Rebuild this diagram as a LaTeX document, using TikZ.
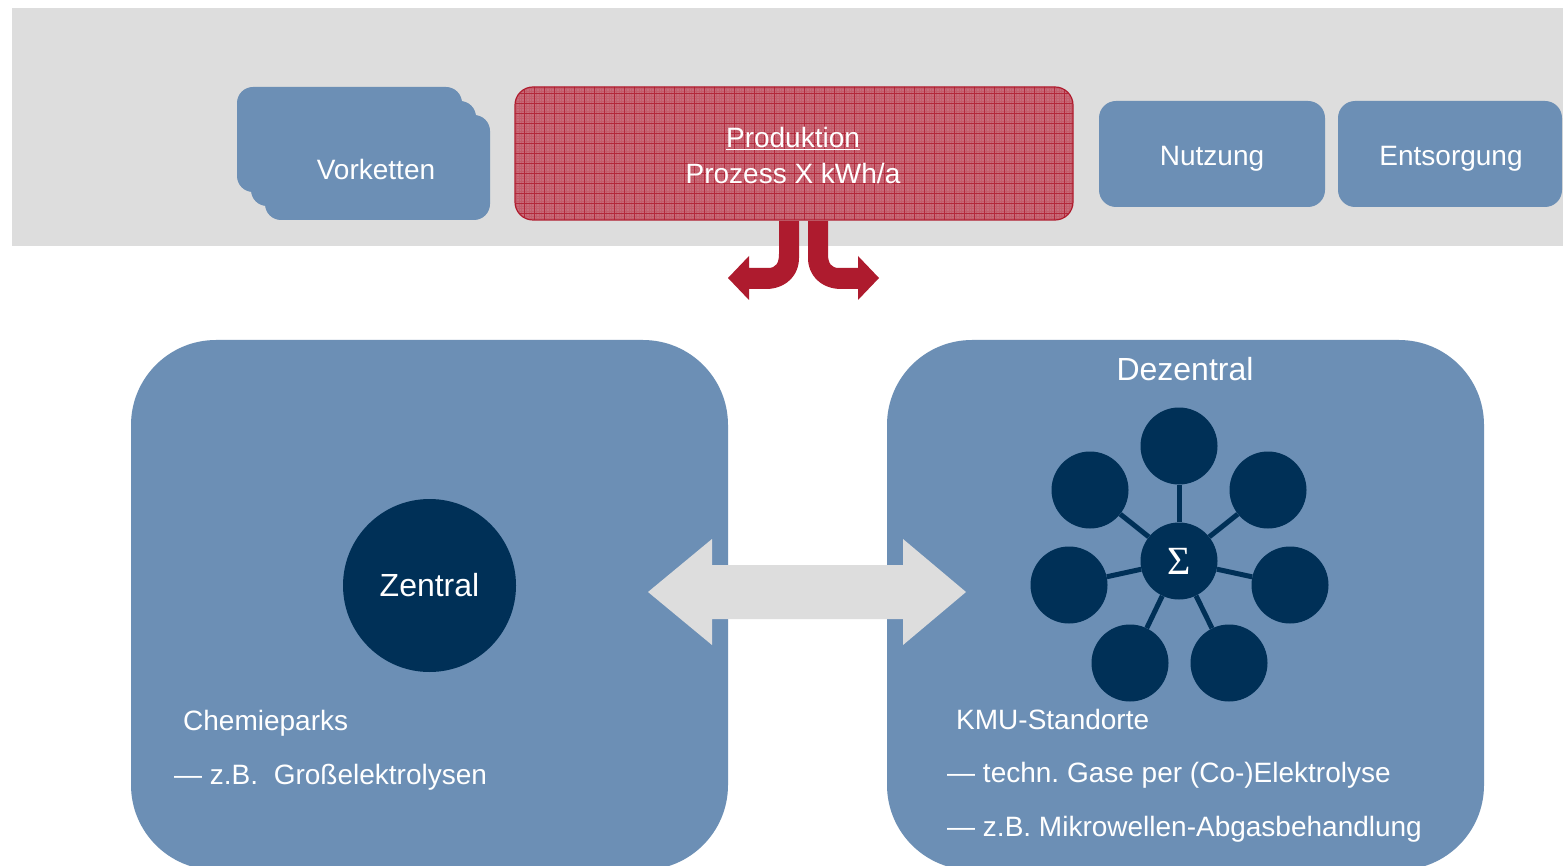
\documentclass[tikz,border=0pt]{standalone}
\usepackage{fontspec}
\setmainfont{Liberation Sans}
\newfontfamily\greekserif{Liberation Serif}
\definecolor{band}{RGB}{221,221,221}
\definecolor{panelblue}{RGB}{108,143,181}
\definecolor{navy}{RGB}{0,48,87}
\definecolor{prodfill}{RGB}{200,108,122}
\definecolor{prodline}{RGB}{176,28,46}
\definecolor{arrowred}{RGB}{174,27,46}
\frenchspacing
\begin{document}
\begin{tikzpicture}[x=1pt,y=-1pt,
  stagebox/.style={fill=panelblue, draw=none, rounded corners=16pt, inner sep=0pt},
  txt/.style={text=white, inner sep=0pt, font=\fontsize{28}{33}\selectfont},
  bigtxt/.style={text=white, inner sep=0pt, font=\fontsize{32}{38}\selectfont},
  panel/.style={fill=panelblue, draw=none, rounded corners=85pt, minimum width=597pt, minimum height=530pt, inner sep=0pt},
  satdot/.style={circle, fill=navy, draw=none, minimum size=77pt, inner sep=0pt},
  link/.style={draw=navy, line width=5pt},
]
\clip (0,0) rectangle (1563,866);
\fill[white] (0,0) rectangle (1563,866);
% top band
\fill[band] (12,8) rectangle (1563,246);
% Vorketten (stacked)
\node[stagebox, minimum width=225pt, minimum height=105pt] (v1) at (349.5,139.5) {};
\node[stagebox, minimum width=225pt, minimum height=105pt] (v2) at (363.5,153.5) {};
\node[stagebox, minimum width=225pt, minimum height=105pt] (v3) at (377.5,167.5) {};
\node[txt, anchor=base] (vtxt) at (376,180) {Vorketten};
% Produktion
\node[rounded corners=18pt, fill=prodfill, draw=prodline, line width=1.2pt,
      minimum width=558pt, minimum height=133pt, inner sep=0pt,
      path picture={
        \draw[prodline, line width=0.3pt, opacity=0.2] ([shift={(-2pt,-2pt)}]path picture bounding box.south west) grid[step=2.5pt] ([shift={(2pt,2pt)}]path picture bounding box.north east);
        \draw[prodline, line width=0.6pt, opacity=0.8] ([shift={(-5pt,-5pt)}]path picture bounding box.south west) grid[step=10pt] ([shift={(5pt,5pt)}]path picture bounding box.north east);
      }] (prod) at (794,153.5) {};
\node[txt, anchor=base] (ptitle) at (793,148) {\underline{Produktion}};
\node[txt, anchor=base] (psub) at (793,184) {Prozess X kWh/a};
% Nutzung, Entsorgung
\node[stagebox, rounded corners=17pt, minimum width=226pt, minimum height=106pt] (nutz) at (1212,154) {};
\node[txt, anchor=base] (ntxt) at (1212,166) {Nutzung};
\node[stagebox, rounded corners=17pt, minimum width=224pt, minimum height=106pt] (ents) at (1450,154) {};
\node[txt, anchor=base] (etxt) at (1451,166) {Entsorgung};
% red split arrows
\fill[arrowred] (779,221) -- (779,254) .. controls (779,263) and (776,268) .. (768,268)
  -- (749,268) -- (749,256) -- (728,278) -- (749,300) -- (749,289) -- (766,289)
  .. controls (785,289) and (799,276) .. (799,258) -- (799,221) -- cycle;
\fill[arrowred] (828,221) -- (828,254) .. controls (828,263) and (831,268) .. (839,268)
  -- (858,268) -- (858,256) -- (879,278) -- (858,300) -- (858,289) -- (841,289)
  .. controls (822,289) and (808,276) .. (808,258) -- (808,221) -- cycle;
% panels
\node[panel] (left) at (429.5,605) {};
\node[panel] (right) at (1185.5,605) {};
% double arrow
\fill[band] (648,592) -- (712,539) -- (712,565) -- (903,565) -- (903,539) -- (966,592)
  -- (903,645) -- (903,619) -- (712,619) -- (712,645) -- cycle;
% Zentral
\node[circle, fill=navy, minimum size=173pt, inner sep=0pt, bigtxt] (zen) at (429.5,585.5) {Zentral};
\node[txt, anchor=base west] (chem) at (183,730.5) {Chemieparks};
\node[txt, anchor=base west] (gross) at (174,784.5) {— z.B.\ \ Großelektrolysen};
% Dezentral
\node[bigtxt, anchor=base] (dez) at (1185,381) {Dezentral};
\node[satdot] (sig) at (1179,561) {\color{white}\greekserif\fontsize{40}{40}\selectfont Σ};
\node[satdot] (n1) at (1179,446) {};
\node[satdot] (n2) at (1090,490) {};
\node[satdot] (n3) at (1268,490) {};
\node[satdot] (n4) at (1069,585) {};
\node[satdot] (n5) at (1290,585) {};
\node[satdot] (n6) at (1130,663) {};
\node[satdot] (n7) at (1229,663) {};
\foreach \n in {n1,n2,n3,n4,n5,n6,n7} \draw[link] (sig) -- (\n);
\node[txt, anchor=base west] (kmu) at (956,729) {KMU-Standorte};
\node[txt, anchor=base west] (gase) at (947,782) {— techn. Gase per (Co-)Elektrolyse};
\node[txt, anchor=base west] (mikro) at (947,836) {— z.B. Mikrowellen-Abgasbehandlung};
\end{tikzpicture}
\end{document}
